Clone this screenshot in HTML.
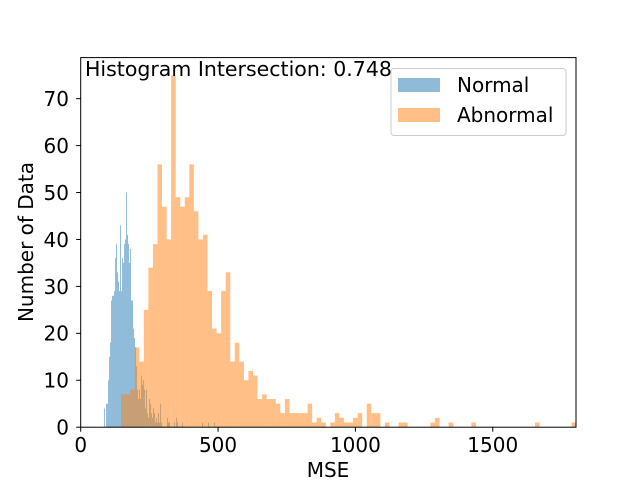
<!DOCTYPE html>
<html><head><meta charset="utf-8"><style>
body{margin:0;background:#fff;}
svg{display:block;font-family:"DejaVu Sans","Liberation Sans",sans-serif;}
</style></head><body>
<svg id="chart" width="640" height="480" viewBox="0 0 640 480"></svg>
<script>
const normalStart = 85;
const normalWidth = 3.64;
const normalCounts = [4,0,5,5,10,15,18,27,28,28,29,36,39,33,31,29,43,29,36,35,39,40,50,41,39,35,38,27,27,21,19,17,13,8,6,8,6,11,9,10,8,4,8,3,2,6,5,3,2,4,3,1,2,1,3,1,5,1,0,0,0,0,0,2,1,1,0,0,0,0,1,0,2,1,0,0,0,0,1,0,0,0,0,0,0,0,0,0,0,0,0,0,0,0,0,0,0,0,1,0,0,0,0,0,1,0,0,0,0,0,1];
const abnormalStart = 147;
const abnormalWidth = 16.56;
const abnormalCounts = [7,7,8,17,14,25,34,39,56,47,40,75,49,47,49,56,46,40,41,29,21,20,29,33,14,18,14,10,12,11,6,7,6,6,5,3,6,3,3,3,3,5,1,2,1,0,1,3,2,1,1,2,3,0,5,3,3,0,1,0,0,1,1,0,0,0,0,0,1,2,0,0,1,0,0,0,0,1,0,0,0,0,0,0,0,0,0,0,0,0,0,1,0,0,0,0,0,0,0,1];
const xTicks = [0,500,1000,1500];
const yTicks = [0,10,20,30,40,50,60,70];
const xMax = 1803, yMax = 78.75;
const L=80.7,R=576,T=57.6,B=427.2;
const xs = v => L + v/xMax*(R-L);
const ys = v => B - v/yMax*(B-T);
const svg = document.getElementById('chart');
const NS='http://www.w3.org/2000/svg';
function mk(tag, attrs, parent){const e=document.createElementNS(NS,tag);for(const k in attrs)e.setAttribute(k,attrs[k]);(parent||svg).appendChild(e);return e;}
const gN = mk('g',{});


normalCounts.forEach((c,i)=>{ if(!c) return;
  const x0=xs(normalStart+i*normalWidth), x1=xs(normalStart+(i+1)*normalWidth);
  const r=mk('rect',{x:x0,y:ys(c),width:x1-x0,height:B-ys(c),fill:'#1f77b4','fill-opacity':0.5},gN);
  
  
});
const gA = mk('g',{});


abnormalCounts.forEach((c,i)=>{ if(!c) return;
  const x0=xs(abnormalStart+i*abnormalWidth), x1=xs(abnormalStart+(i+1)*abnormalWidth);
  const r=mk('rect',{x:x0,y:ys(c),width:x1-x0,height:B-ys(c),fill:'#ff7f0e','fill-opacity':0.5},gA);
  
  
});
const frame = mk('rect',{x:L,y:T,width:R-L,height:B-T,fill:'none',stroke:'#000','stroke-width':1});


xTicks.forEach(t=>{
  const x=xs(t);
  mk('line',{x1:x,x2:x,y1:B,y2:B+4.5,stroke:'#000'});
  const tx=mk('text',{x:x,y:452,'font-size':20,'text-anchor':'middle',fill:'#000'});
  tx.textContent=t;
  
  
});
yTicks.forEach(t=>{
  const y=ys(t);
  mk('line',{x1:L-4.5,x2:L,y1:y,y2:y,stroke:'#000'});
  const tx=mk('text',{x:69,y:y+7.4,'font-size':20,'text-anchor':'end',fill:'#000'});
  tx.textContent=t;
  
  
});
</script>
<svg style="position:absolute;left:0;top:0" width="640" height="480">
<text x="328" y="477" font-size="20" text-anchor="middle" font-family="DejaVu Sans, Liberation Sans, sans-serif">MSE</text>
<text transform="translate(33,242) rotate(-90)" font-size="20" text-anchor="middle" font-family="DejaVu Sans, Liberation Sans, sans-serif">Number of Data</text>
<text x="85" y="76" font-size="20.5" font-family="DejaVu Sans, Liberation Sans, sans-serif">Histogram Intersection: 0.748</text>
<g>
<rect x="391" y="68.5" width="175" height="67" rx="3" fill="#fff" fill-opacity="0.8" stroke="#ccc"/>
<rect x="398" y="78" width="42" height="14" fill="#1f77b4" fill-opacity="0.5"/>
<text x="457" y="92" font-size="20" font-family="DejaVu Sans, Liberation Sans, sans-serif">Normal</text>
<rect x="398" y="108" width="42" height="14" fill="#ff7f0e" fill-opacity="0.5"/>
<text x="457" y="122" font-size="20" font-family="DejaVu Sans, Liberation Sans, sans-serif">Abnormal</text>
</g>
</svg>
</body></html>
